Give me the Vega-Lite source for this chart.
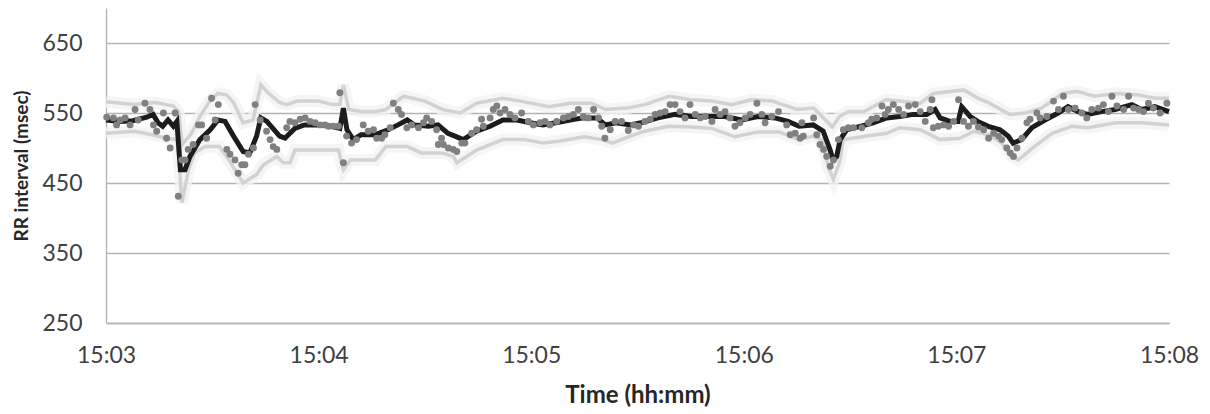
{
  "$schema": "https://vega.github.io/schema/vega-lite/v6.json",
  "width": 1063,
  "height": 315,
  "autosize": "none",
  "padding": {"left": 106, "top": 8, "right": 41, "bottom": 91},
  "background": "white",
  "config": {
    "view": {"stroke": null},
    "font": "Lato",
    "axis": {"labelFont": "Lato", "titleFont": "Lato", "labelColor": "#404040", "titleColor": "#262626"}
  },
  "datasets": {
    "beats": [
      {"t":0.2,"rr":544},{"t":2.1,"rr":543},{"t":3.0,"rr":533},{"t":4.0,"rr":540},{"t":5.4,"rr":543},{"t":6.8,"rr":533},{"t":8.2,"rr":555},{"t":9.1,"rr":540},{"t":11.0,"rr":564},{"t":12.4,"rr":555},{"t":13.4,"rr":533},{"t":14.3,"rr":524},{"t":16.2,"rr":550},{"t":17.1,"rr":514},{"t":18.1,"rr":500},{"t":19.5,"rr":550},{"t":20.4,"rr":431},{"t":21.4,"rr":483},{"t":22.3,"rr":483},{"t":23.2,"rr":498},{"t":24.6,"rr":505},{"t":26.1,"rr":533},{"t":27.0,"rr":533},{"t":28.4,"rr":514},{"t":29.8,"rr":571},{"t":30.8,"rr":540},{"t":31.7,"rr":562},{"t":34.1,"rr":498},{"t":35.0,"rr":491},{"t":36.4,"rr":483},{"t":37.3,"rr":464},{"t":38.3,"rr":476},{"t":39.2,"rr":476},{"t":40.2,"rr":491},{"t":41.6,"rr":500},{"t":42.1,"rr":562},{"t":43.5,"rr":540},{"t":45.3,"rr":524},{"t":46.3,"rr":512},{"t":47.2,"rr":502},{"t":48.2,"rr":498},
      {"t":51.0,"rr":529},{"t":51.9,"rr":538},{"t":53.3,"rr":536},{"t":54.8,"rr":541},{"t":56.2,"rr":543},{"t":57.6,"rr":538},{"t":59.0,"rr":536},{"t":60.4,"rr":533},{"t":61.8,"rr":533},{"t":62.8,"rr":531},{"t":64.2,"rr":531},{"t":65.6,"rr":531},{"t":66.0,"rr":579},{"t":67.0,"rr":479},{"t":67.9,"rr":517},{"t":69.3,"rr":507},{"t":70.7,"rr":512},{"t":72.6,"rr":533},{"t":74.0,"rr":524},{"t":75.5,"rr":526},{"t":76.4,"rr":514},{"t":77.8,"rr":514},{"t":78.7,"rr":519},{"t":80.2,"rr":529},{"t":81.1,"rr":564},{"t":82.5,"rr":555},{"t":83.4,"rr":548},{"t":84.9,"rr":529},{"t":86.3,"rr":533},{"t":88.2,"rr":529},{"t":89.6,"rr":536},{"t":90.5,"rr":543},{"t":91.9,"rr":538},{"t":93.3,"rr":526},{"t":94.7,"rr":514},{"t":93.8,"rr":505},{"t":95.2,"rr":505},{"t":96.6,"rr":500},{"t":98.0,"rr":498},
      {"t":99.0,"rr":495},{"t":100.4,"rr":507},{"t":101.3,"rr":507},{"t":103.2,"rr":521},{"t":104.6,"rr":526},{"t":106.0,"rr":541},{"t":106.5,"rr":531},{"t":108.4,"rr":543},{"t":109.3,"rr":555},{"t":110.3,"rr":560},{"t":111.2,"rr":550},{"t":112.6,"rr":555},{"t":114.0,"rr":548},{"t":115.4,"rr":543},{"t":117.3,"rr":550},{"t":119.2,"rr":538},{"t":120.6,"rr":533},{"t":122.5,"rr":536},{"t":123.9,"rr":538},{"t":125.3,"rr":533},{"t":127.2,"rr":538},{"t":129.1,"rr":543},{"t":130.5,"rr":545},{"t":131.9,"rr":548},{"t":133.3,"rr":555},{"t":134.7,"rr":545},{"t":136.1,"rr":543},{"t":137.6,"rr":555},{"t":139.0,"rr":543},{"t":139.9,"rr":531},{"t":140.8,"rr":514},{"t":142.3,"rr":526},{"t":143.7,"rr":538},{"t":145.5,"rr":538},{"t":147.4,"rr":525},
      {"t":148.9,"rr":533},{"t":150.3,"rr":531},{"t":152.1,"rr":538},{"t":153.6,"rr":541},{"t":155.0,"rr":548},{"t":156.4,"rr":550},{"t":157.8,"rr":552},{"t":159.2,"rr":562},{"t":160.6,"rr":562},{"t":162.0,"rr":552},{"t":163.4,"rr":543},{"t":164.8,"rr":562},{"t":166.3,"rr":548},{"t":167.7,"rr":543},{"t":169.1,"rr":545},{"t":171.0,"rr":538},{"t":171.9,"rr":555},{"t":173.3,"rr":548},{"t":174.7,"rr":552},{"t":176.1,"rr":543},{"t":177.5,"rr":531},{"t":178.9,"rr":536},{"t":180.4,"rr":543},{"t":181.8,"rr":548},{"t":183.7,"rr":564},{"t":185.1,"rr":548},{"t":186.0,"rr":536},{"t":187.9,"rr":545},{"t":189.8,"rr":552},{"t":192.1,"rr":533},{"t":193.1,"rr":519},{"t":194.5,"rr":521},{"t":195.9,"rr":514},
      {"t":196.4,"rr":536},{"t":196.8,"rr":517},{"t":199.7,"rr":543},{"t":200.6,"rr":519},{"t":201.5,"rr":505},{"t":202.5,"rr":498},{"t":203.4,"rr":488},{"t":204.4,"rr":474},{"t":205.3,"rr":483},{"t":206.7,"rr":512},{"t":208.1,"rr":526},{"t":209.5,"rr":529},{"t":211.0,"rr":529},{"t":213.3,"rr":529},{"t":215.2,"rr":536},{"t":216.1,"rr":541},{"t":217.5,"rr":543},{"t":219.0,"rr":560},{"t":219.9,"rr":548},{"t":220.8,"rr":555},{"t":222.2,"rr":562},{"t":223.7,"rr":555},{"t":225.1,"rr":548},{"t":226.5,"rr":560},{"t":228.4,"rr":562},{"t":229.8,"rr":552},{"t":231.2,"rr":538},{"t":232.6,"rr":555},{"t":233.1,"rr":569},{"t":233.5,"rr":529},{"t":234.9,"rr":531},{"t":236.4,"rr":533},{"t":237.8,"rr":531},{"t":239.2,"rr":538},{"t":240.6,"rr":569},{"t":242.0,"rr":538},{"t":243.4,"rr":531},{"t":244.8,"rr":538},{"t":246.2,"rr":530},
      {"t":247.7,"rr":526},{"t":249.1,"rr":514},{"t":250.5,"rr":521},{"t":251.9,"rr":517},{"t":252.8,"rr":512},{"t":254.2,"rr":500},{"t":255.2,"rr":493},{"t":256.1,"rr":488},{"t":257.1,"rr":500},{"t":258.5,"rr":514},{"t":259.9,"rr":536},{"t":260.8,"rr":541},{"t":262.7,"rr":550},{"t":263.6,"rr":543},{"t":265.5,"rr":545},{"t":267.4,"rr":567},{"t":268.8,"rr":555},{"t":270.2,"rr":574},{"t":271.6,"rr":555},{"t":273.5,"rr":557},{"t":275.4,"rr":550},{"t":276.8,"rr":543},{"t":278.2,"rr":555},{"t":280.1,"rr":557},{"t":281.5,"rr":562},{"t":282.9,"rr":552},{"t":283.9,"rr":574},{"t":285.3,"rr":560},{"t":287.2,"rr":555},{"t":288.6,"rr":574},{"t":290.0,"rr":557},{"t":291.4,"rr":555},{"t":292.8,"rr":552},{"t":294.2,"rr":564},{"t":295.6,"rr":557},{"t":297.5,"rr":550},{"t":299.4,"rr":564}
    ],
    "avg": [
      {"t":0,"rr":540},{"t":4,"rr":538},{"t":7.6,"rr":539},{"t":11.5,"rr":544},{"t":13.3,"rr":548},{"t":14.7,"rr":536},{"t":16,"rr":531},{"t":17.5,"rr":540},{"t":19,"rr":531},{"t":20,"rr":538},{"t":21,"rr":469},{"t":22.3,"rr":469},{"t":23.7,"rr":488},{"t":26.5,"rr":512},{"t":29.4,"rr":526},{"t":31.6,"rr":540},{"t":33.6,"rr":538},{"t":36,"rr":517},{"t":38.7,"rr":495},{"t":40.6,"rr":493},{"t":42.5,"rr":517},{"t":43.7,"rr":543},{"t":45.4,"rr":538},{"t":49,"rr":517},{"t":50.5,"rr":514},{"t":53.3,"rr":528},{"t":56,"rr":533},{"t":60,"rr":533},{"t":63.7,"rr":531},{"t":66,"rr":528},{"t":67,"rr":557},{"t":68,"rr":526},{"t":69.8,"rr":512},{"t":72,"rr":519},{"t":76,"rr":519},{"t":79.6,"rr":526},{"t":82.4,"rr":533},{"t":85,"rr":540},{"t":87,"rr":533},{"t":91,"rr":531},{"t":93.7,"rr":533},{"t":96.5,"rr":521},{"t":98.5,"rr":517},{"t":100.8,"rr":512},{"t":104.6,"rr":524},{"t":108.4,"rr":531},{"t":112,"rr":540},{"t":116,"rr":540},{"t":119.7,"rr":536},{"t":123.3,"rr":533},{"t":127,"rr":536},{"t":131,"rr":540},{"t":134.7,"rr":543},{"t":138.5,"rr":543},{"t":141,"rr":533},{"t":144,"rr":536},{"t":148,"rr":533},{"t":151,"rr":536},{"t":155.8,"rr":543},{"t":160.6,"rr":548},{"t":165.3,"rr":545},{"t":170,"rr":545},{"t":174.6,"rr":545},{"t":179.4,"rr":540},{"t":184,"rr":545},{"t":188.8,"rr":543},{"t":192.5,"rr":538},{"t":195.6,"rr":531},{"t":199.6,"rr":533},{"t":202.4,"rr":524},{"t":204.3,"rr":498},{"t":205.2,"rr":483},{"t":206.2,"rr":488},{"t":207.2,"rr":512},{"t":209,"rr":526},{"t":212.8,"rr":531},{"t":216.5,"rr":536},{"t":220.3,"rr":543},{"t":224,"rr":545},{"t":227.8,"rr":548},{"t":231.6,"rr":548},{"t":234,"rr":555},{"t":235.4,"rr":543},{"t":238.2,"rr":538},{"t":240.5,"rr":538},{"t":241.5,"rr":559},{"t":243.9,"rr":545},{"t":246,"rr":538},{"t":249,"rr":531},{"t":252.3,"rr":526},{"t":254.6,"rr":517},{"t":256,"rr":507},{"t":258.4,"rr":512},{"t":261.3,"rr":529},{"t":265,"rr":540},{"t":268.7,"rr":550},{"t":271.5,"rr":559},{"t":274.4,"rr":552},{"t":277,"rr":548},{"t":281,"rr":552},{"t":284.8,"rr":555},{"t":289.5,"rr":562},{"t":292.3,"rr":555},{"t":296,"rr":559},{"t":300,"rr":552}
    ],
    "band": [
      {"side":"upper","t":0,"rr":566},{"side":"upper","t":8,"rr":562},{"side":"upper","t":14,"rr":565},{"side":"upper","t":19,"rr":560},{"side":"upper","t":20.5,"rr":552},{"side":"upper","t":21.5,"rr":505},{"side":"upper","t":24,"rr":520},{"side":"upper","t":26.5,"rr":545},{"side":"upper","t":29,"rr":565},{"side":"upper","t":31.5,"rr":578},{"side":"upper","t":34,"rr":576},{"side":"upper","t":36,"rr":565},{"side":"upper","t":38.7,"rr":536},{"side":"upper","t":41.5,"rr":540},{"side":"upper","t":43.7,"rr":590},{"side":"upper","t":45.5,"rr":580},{"side":"upper","t":49,"rr":565},{"side":"upper","t":51,"rr":562},{"side":"upper","t":54,"rr":567},{"side":"upper","t":60,"rr":567},{"side":"upper","t":64,"rr":562},{"side":"upper","t":66,"rr":562},{"side":"upper","t":67,"rr":590},{"side":"upper","t":68.5,"rr":555},{"side":"upper","t":72,"rr":552},{"side":"upper","t":76,"rr":552},{"side":"upper","t":79,"rr":555},{"side":"upper","t":84,"rr":574},{"side":"upper","t":90,"rr":567},{"side":"upper","t":95,"rr":555},{"side":"upper","t":98,"rr":552},{"side":"upper","t":100,"rr":550},{"side":"upper","t":104.6,"rr":564},{"side":"upper","t":112,"rr":571},{"side":"upper","t":117,"rr":567},{"side":"upper","t":125,"rr":559},{"side":"upper","t":131,"rr":564},{"side":"upper","t":137,"rr":564},{"side":"upper","t":141,"rr":555},{"side":"upper","t":147,"rr":557},{"side":"upper","t":152,"rr":562},{"side":"upper","t":159,"rr":574},{"side":"upper","t":165,"rr":569},{"side":"upper","t":171,"rr":567},{"side":"upper","t":176.6,"rr":562},{"side":"upper","t":182,"rr":569},{"side":"upper","t":188,"rr":567},{"side":"upper","t":195,"rr":555},{"side":"upper","t":199.7,"rr":557},{"side":"upper","t":202.5,"rr":543},{"side":"upper","t":205,"rr":530},{"side":"upper","t":207,"rr":545},{"side":"upper","t":209.5,"rr":552},{"side":"upper","t":214,"rr":552},{"side":"upper","t":220,"rr":569},{"side":"upper","t":224,"rr":567},{"side":"upper","t":229.8,"rr":564},{"side":"upper","t":233.5,"rr":578},{"side":"upper","t":242,"rr":583},{"side":"upper","t":246.5,"rr":570},{"side":"upper","t":249,"rr":565},{"side":"upper","t":255,"rr":548},{"side":"upper","t":259.5,"rr":550},{"side":"upper","t":264,"rr":557},{"side":"upper","t":270,"rr":578},{"side":"upper","t":274,"rr":581},{"side":"upper","t":279,"rr":574},{"side":"upper","t":285,"rr":578},{"side":"upper","t":291,"rr":576},{"side":"upper","t":296,"rr":571},{"side":"upper","t":300,"rr":571},
      {"side":"lower","t":0,"rr":521},{"side":"lower","t":8,"rr":524},{"side":"lower","t":13,"rr":519},{"side":"lower","t":17,"rr":514},{"side":"lower","t":20,"rr":512},{"side":"lower","t":20.8,"rr":470},{"side":"lower","t":21.4,"rr":422},{"side":"lower","t":23.3,"rr":469},{"side":"lower","t":25,"rr":493},{"side":"lower","t":28,"rr":502},{"side":"lower","t":32,"rr":502},{"side":"lower","t":34.7,"rr":483},{"side":"lower","t":38.7,"rr":450},{"side":"lower","t":42.5,"rr":462},{"side":"lower","t":44.4,"rr":476},{"side":"lower","t":48.2,"rr":488},{"side":"lower","t":50,"rr":479},{"side":"lower","t":52,"rr":479},{"side":"lower","t":53.3,"rr":497},{"side":"lower","t":60,"rr":497},{"side":"lower","t":65.6,"rr":497},{"side":"lower","t":67,"rr":469},{"side":"lower","t":69,"rr":483},{"side":"lower","t":76,"rr":483},{"side":"lower","t":79,"rr":502},{"side":"lower","t":85,"rr":502},{"side":"lower","t":89,"rr":493},{"side":"lower","t":95,"rr":493},{"side":"lower","t":98,"rr":488},{"side":"lower","t":99,"rr":479},{"side":"lower","t":104.6,"rr":497},{"side":"lower","t":112,"rr":512},{"side":"lower","t":118,"rr":512},{"side":"lower","t":123.5,"rr":507},{"side":"lower","t":128,"rr":510},{"side":"lower","t":135,"rr":516},{"side":"lower","t":140,"rr":512},{"side":"lower","t":143,"rr":507},{"side":"lower","t":147.4,"rr":516},{"side":"lower","t":152,"rr":524},{"side":"lower","t":158.7,"rr":531},{"side":"lower","t":165,"rr":530},{"side":"lower","t":171,"rr":528},{"side":"lower","t":177.5,"rr":516},{"side":"lower","t":184,"rr":523},{"side":"lower","t":190,"rr":523},{"side":"lower","t":195.4,"rr":512},{"side":"lower","t":199.6,"rr":517},{"side":"lower","t":202,"rr":512},{"side":"lower","t":204,"rr":470},{"side":"lower","t":205.3,"rr":455},{"side":"lower","t":207,"rr":480},{"side":"lower","t":208.1,"rr":512},{"side":"lower","t":214.7,"rr":517},{"side":"lower","t":220.3,"rr":521},{"side":"lower","t":224,"rr":529},{"side":"lower","t":229.8,"rr":526},{"side":"lower","t":235.4,"rr":512},{"side":"lower","t":241,"rr":514},{"side":"lower","t":245,"rr":524},{"side":"lower","t":249,"rr":519},{"side":"lower","t":252.8,"rr":507},{"side":"lower","t":255.6,"rr":488},{"side":"lower","t":257.5,"rr":483},{"side":"lower","t":262,"rr":502},{"side":"lower","t":267,"rr":521},{"side":"lower","t":272.6,"rr":531},{"side":"lower","t":277,"rr":529},{"side":"lower","t":285,"rr":536},{"side":"lower","t":292.3,"rr":536},{"side":"lower","t":300,"rr":533}
    ]
  },
  "encoding": {
    "x": {
      "field": "t", "type": "quantitative",
      "scale": {"domain": [0, 300], "nice": false, "zero": false},
      "axis": {
        "values": [0, 60, 120, 180, 240, 300],
        "labelExpr": "'15:0' + (3 + datum.value / 60)",
        "labelFlush": false, "grid": false, "ticks": false,
        "domain": true, "domainColor": "#b3b3b3", "domainWidth": 1.3,
        "labelFontSize": 23, "labelPadding": 21,
        "title": "Time (hh:mm)", "titleFontSize": 24, "titleFontWeight": "bold", "titlePadding": 16
      }
    },
    "y": {
      "field": "rr", "type": "quantitative",
      "scale": {"domain": [250, 700], "nice": false, "zero": false},
      "axis": {
        "values": [250, 350, 450, 550, 650],
        "grid": true, "gridColor": "#b3b3b3", "gridWidth": 1.3,
        "ticks": false, "domain": true, "domainColor": "#b3b3b3", "domainWidth": 1.3,
        "labelFontSize": 23, "labelPadding": 24,
        "title": "RR interval (msec)", "titleFontSize": 19, "titleFontWeight": "bold", "titlePadding": 10
      }
    }
  },
  "layer": [
    {
      "data": {"name": "band"},
      "mark": {"type": "line", "stroke": "#f2f2f2", "strokeWidth": 12, "opacity": 0.8},
      "encoding": {"detail": {"field": "side"}}
    },
    {
      "data": {"name": "band"},
      "mark": {"type": "line", "stroke": "#d2d2d2", "strokeWidth": 3.5},
      "encoding": {"detail": {"field": "side"}}
    },
    {
      "data": {"name": "avg"},
      "mark": {"type": "line", "stroke": "#1c1c1c", "strokeWidth": 5},
      "encoding": {}
    },
    {
      "data": {"name": "beats"},
      "mark": {"type": "circle", "color": "#808080", "size": 48, "opacity": 1},
      "encoding": {}
    }
  ]
}
